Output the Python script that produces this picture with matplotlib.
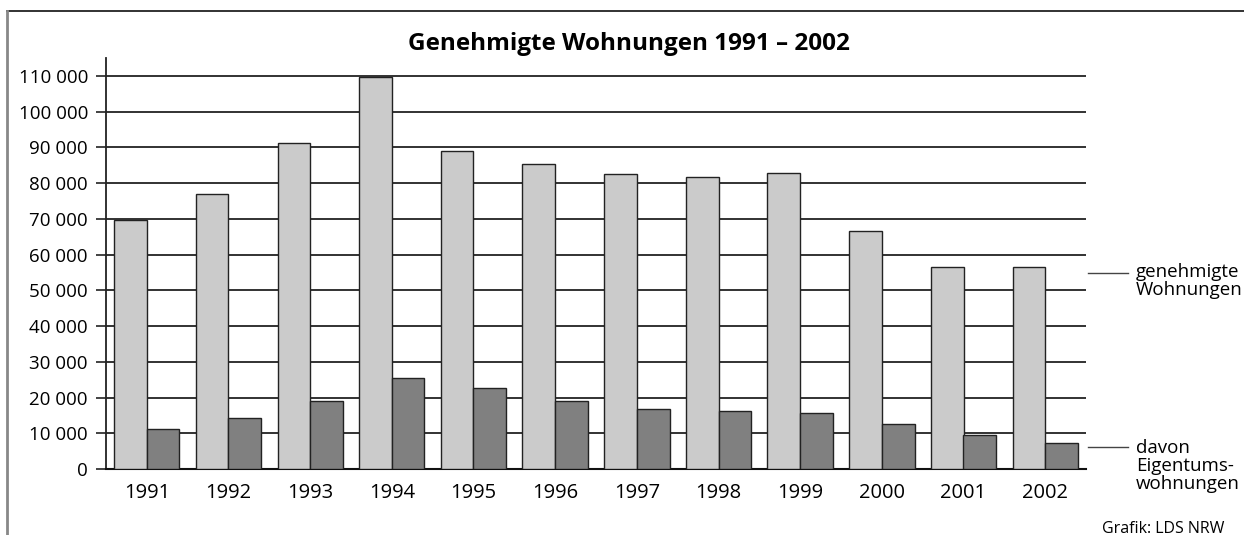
import matplotlib
matplotlib.use("Agg")
import matplotlib.pyplot as plt
from matplotlib.lines import Line2D
import numpy as np

# Genehmigte Wohnungen NRW
years = ["1991", "1992", "1993", "1994", "1995", "1996",
         "1997", "1998", "1999", "2000", "2001", "2002"]
genehmigt = [69800, 77000, 91200, 109800, 89000, 85400,
             82600, 81800, 82900, 66700, 56600, 56600]
eigentum = [11200, 14200, 18900, 25400, 22600, 19100,
            16800, 16200, 15600, 12600, 9600, 7300]
yticks = list(range(0, 110001, 10000))

plt.rcParams["font.family"] = ["Open Sans", "DejaVu Sans"]

fig = plt.figure(figsize=(12.44, 5.35), dpi=100)
W, H = 1244, 535
ax = fig.add_axes([106 / W, 1 - 469 / H, (1086 - 106) / W, (469 - 58) / H])

x = np.arange(len(years))
bw = 0.4
ax.bar(x - bw / 2, genehmigt, width=bw, color="#cbcbcb",
       edgecolor="#222222", linewidth=1.0, zorder=3)
ax.bar(x + bw / 2, eigentum, width=bw, color="#808080",
       edgecolor="#222222", linewidth=1.0, zorder=3)

ax.set_xlim(-0.5, len(years) - 0.5)
ax.set_ylim(0, 115000)
ax.set_yticks(yticks)
ax.set_yticklabels([f"{v:,}".replace(",", " ") for v in yticks], fontsize=13.5)
ax.set_xticks(x)
ax.set_xticklabels(years, fontsize=14.5)
ax.tick_params(axis="x", length=0, pad=10)
ax.tick_params(axis="y", length=7, width=1.2, color="#222222", pad=6)
ax.yaxis.grid(True, color="#222222", linewidth=1.3, zorder=1)
for s in ["top", "right"]:
    ax.spines[s].set_visible(False)
ax.spines["left"].set_color("#222222")
ax.spines["left"].set_linewidth(1.3)
ax.spines["bottom"].set_color("#111111")
ax.spines["bottom"].set_linewidth(1.5)

fig.text(629 / W, 1 - 44 / H, "Genehmigte Wohnungen 1991 – 2002",
         ha="center", va="center", fontsize=17.5, fontweight="bold")

# outer frame
fig.add_artist(Line2D([7 / W, 1], [1 - 11 / H, 1 - 11 / H],
                      color="#222222", linewidth=1.3))
fig.add_artist(Line2D([7 / W, 7 / W], [0, 1 - 11 / H],
                      color="#888888", linewidth=2.0))

# legend leader lines
fig.add_artist(Line2D([1088 / W, 1128 / W], [1 - 273 / H, 1 - 273 / H],
                      color="#444444", linewidth=1.0))
fig.add_artist(Line2D([1088 / W, 1128 / W], [1 - 447 / H, 1 - 447 / H],
                      color="#444444", linewidth=1.0))
fig.text(1136 / W, 1 - 281 / H, "genehmigte\nWohnungen", ha="left",
         va="center", fontsize=13.5, linespacing=1.0)
fig.text(1136 / W, 1 - 466 / H, "davon\nEigentums-\nwohnungen", ha="left",
         va="center", fontsize=13.5, linespacing=1.0)
fig.text(1102 / W, 1 - 529 / H, "Grafik: LDS NRW", ha="left",
         va="center", fontsize=11.5)

fig.savefig("out.png", dpi=100)
